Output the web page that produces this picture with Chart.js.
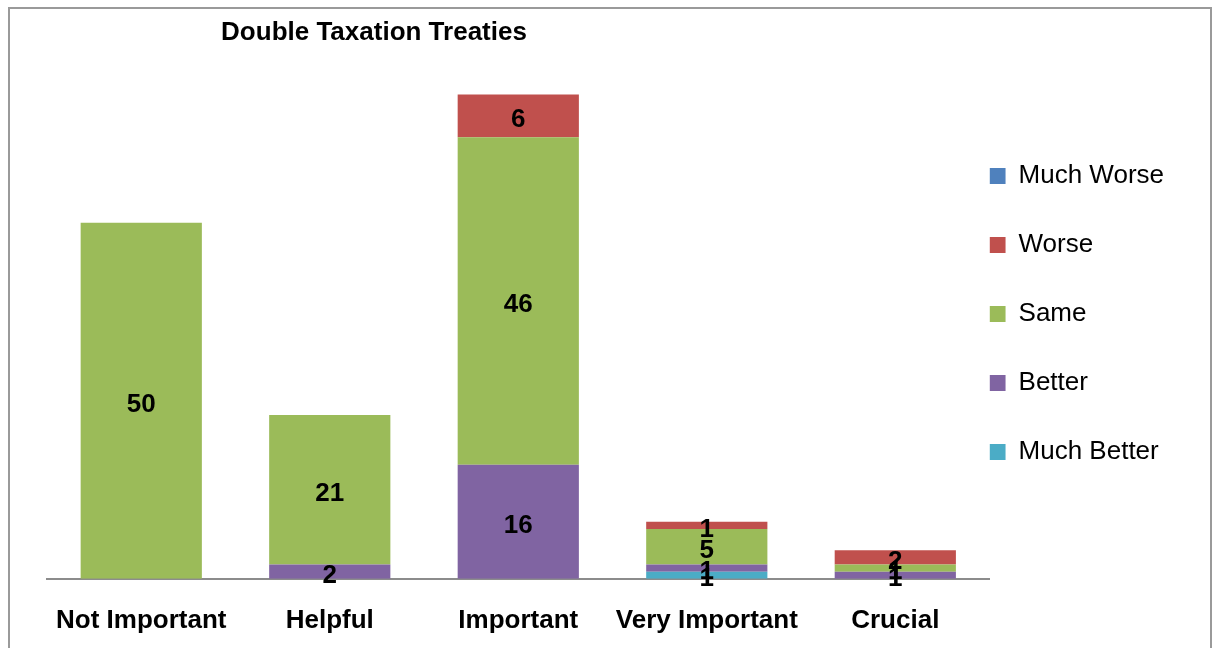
<!DOCTYPE html>
<html>
<head>
<meta charset="utf-8">
<title>Double Taxation Treaties</title>
<script src="https://cdn.jsdelivr.net/npm/chart.js@4/dist/chart.umd.min.js"></script>
<style>
    html, body { margin: 0; padding: 0; background: #ffffff; overflow: hidden; }
    #wrap { position: relative; width: 1212px; height: 648px; overflow: hidden; }
</style>
</head>
<body>
<div id="wrap"><canvas id="treatyChart" width="1212" height="662"></canvas></div>
<script>
// Survey answers per importance level
const categories = ['Not Important', 'Helpful', 'Important', 'Very Important', 'Crucial'];
const muchBetter = [0, 0, 0, 1, 0];
const better     = [0, 2, 16, 1, 1];
const same       = [50, 21, 46, 5, 1];
const worse      = [0, 0, 6, 1, 2];
const muchWorse  = [0, 0, 0, 0, 0];

const seriesNames  = ['Much Better', 'Better', 'Same', 'Worse', 'Much Worse'];
const seriesValues = [muchBetter, better, same, worse, muchWorse];
const seriesColors = ['#4BACC6', '#8064A2', '#9BBB59', '#C0504D', '#4F81BD'];

const FONT = "'Liberation Sans', Arial, sans-serif";

// Outer frame + title
const framePlugin = {
    id: 'frame',
    beforeDraw: function(chart) {
        const ctx = chart.ctx;
        ctx.save();
        ctx.strokeStyle = '#9a9a9a';
        ctx.lineWidth = 2;
        ctx.beginPath();
        ctx.moveTo(9, 670);
        ctx.lineTo(9, 8);
        ctx.lineTo(1211, 8);
        ctx.lineTo(1211, 670);
        ctx.stroke();
        ctx.restore();
    },
    afterDraw: function(chart) {
        const ctx = chart.ctx;
        ctx.save();
        ctx.fillStyle = '#000000';
        ctx.font = 'bold 26px ' + FONT;
        ctx.textAlign = 'center';
        ctx.textBaseline = 'middle';
        ctx.fillText('Double Taxation Treaties', 374, 33);
        ctx.restore();
    }
};

// Segment value labels
const valueLabels = {
    id: 'valueLabels',
    afterDatasetsDraw: function(chart) {
        const ctx = chart.ctx;
        ctx.save();
        ctx.fillStyle = '#000000';
        ctx.font = 'bold 26px ' + FONT;
        ctx.textAlign = 'center';
        ctx.textBaseline = 'middle';
        chart.data.datasets.forEach(function(dataset, i) {
            const meta = chart.getDatasetMeta(i);
            meta.data.forEach(function(bar, index) {
                const v = dataset.data[index];
                if (!v) return;
                ctx.fillText(v, bar.x, (bar.y + bar.base) / 2 + 4);
            });
        });
        ctx.restore();
    }
};

const ctx = document.getElementById('treatyChart').getContext('2d');
new Chart(ctx, {
    type: 'bar',
    data: {
        labels: categories,
        datasets: seriesNames.map(function(name, i) {
            return {
                label: name,
                data: seriesValues[i],
                backgroundColor: seriesColors[i],
                borderWidth: 0,
                barPercentage: 0.643,
                categoryPercentage: 1.0
            };
        })
    },
    options: {
        responsive: false,
        animation: false,
        layout: {
            padding: { left: 47, right: 38, top: 9, bottom: 0 }
        },
        scales: {
            x: {
                stacked: true,
                grid: { display: false, drawTicks: false },
                border: { display: true, color: '#8c8c8c', width: 2 },
                ticks: {
                    color: '#000000',
                    padding: 26,
                    font: { family: FONT, size: 26, weight: 'bold' }
                }
            },
            y: {
                stacked: true,
                display: false,
                min: 0,
                max: 80
            }
        },
        plugins: {
            tooltip: { enabled: false },
            legend: {
                position: 'right',
                reverse: true,
                labels: {
                    color: '#000000',
                    boxWidth: 16,
                    boxHeight: 16,
                    padding: 0,
                    font: { family: FONT, size: 26, lineHeight: 2.654 },
                    generateLabels: function(chart) {
                        const items = Chart.defaults.plugins.legend.labels.generateLabels(chart);
                        // single-line arrays so each row takes the font line height
                        items.forEach(function(item) { item.text = [item.text]; });
                        return items;
                    }
                }
            }
        }
    },
    plugins: [framePlugin, valueLabels]
});
</script>
</body>
</html>
